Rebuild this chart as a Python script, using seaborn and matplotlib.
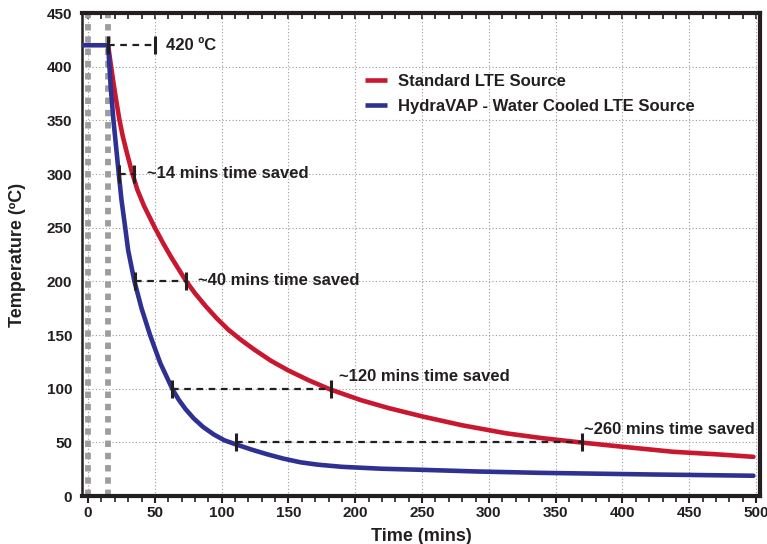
import pandas as pd
import numpy as np
import matplotlib.pyplot as plt
import seaborn as sns
from matplotlib.ticker import MultipleLocator

# values
std_time = [15, 17, 19, 21, 23.4, 26, 29, 33, 37, 42, 46, 50, 56, 62, 68, 73, 80, 88, 96,
            105, 115, 125, 137, 150, 165, 181, 204, 225, 251, 280, 313, 340, 371, 400, 438,
            470, 498]
std_temp = [420, 402, 385, 369, 351, 335, 320, 301, 285, 270, 260, 250, 236, 223, 211, 201,
            189, 177, 166, 155, 145, 136, 126, 117, 108, 99.5, 89.5, 82, 74, 66, 58.5, 54,
            49.7, 46, 41.3, 39, 36.6]

hyd_time = [-4, 15, 16, 17, 19, 21, 23, 25, 27.7, 30, 34.7, 40, 46.4, 54, 63.4, 68, 73, 79,
            86, 94, 102, 110, 122, 134, 146, 159, 172, 190, 220, 250, 290, 338, 420, 498]
hyd_temp = [420, 420, 400, 380, 350, 325, 300, 276, 251, 229, 200, 175, 150, 124, 99, 89.5,
            81, 72.5, 64.5, 57.5, 52, 48.5, 43.5, 39, 35, 31.5, 29.3, 27.3, 25.5, 24.5, 23,
            21.7, 20.2, 19]

series_names = ["Standard LTE Source", "HydraVAP - Water Cooled LTE Source"]
series_colors = ["#c8172f", "#2e3192"]

load_lines = [0, 15]

# (temperature, blue time, red time, label, label x, label y)
savings = [
    (420, 15, 50, "420 ºC", 58, 420),
    (300, 23, 34, "~14 mins time saved", 44, 301),
    (200, 35, 73, "~40 mins time saved", 82, 201),
    (100, 63, 182, "~120 mins time saved", 188, 111),
    (50, 111, 370, "~260 mins time saved", 371, 62),
]

df = pd.concat([
    pd.DataFrame({"Time": std_time, "Temp": std_temp, "Source": series_names[0]}),
    pd.DataFrame({"Time": hyd_time, "Temp": hyd_temp, "Source": series_names[1]}),
], ignore_index=True)

sns.set_style("white")
plt.rcParams['font.family'] = ['Liberation Sans', 'DejaVu Sans']
txt = "#231f20"

fig, ax = plt.subplots(figsize=(7.67, 5.44), dpi=100)
fig.subplots_adjust(left=0.107, right=0.991, bottom=0.088, top=0.976)

ax.grid(True, which="major", linestyle=(0, (1, 2)), color="#9a9a9a", linewidth=0.8)
ax.set_axisbelow(True)

for xv in load_lines:
    ax.axvline(xv, color="#9d9d9f", linewidth=4.2, linestyle=(0, (1.1, 1.0)), zorder=1)

sns.lineplot(data=df, x="Time", y="Temp", hue="Source", palette=series_colors,
             hue_order=series_names, linewidth=3.3, estimator=None, sort=True,
             ax=ax, zorder=3)
for ln in ax.get_lines()[-2:]:
    ln.set_solid_joinstyle("round")
    ln.set_solid_capstyle("butt")

for temp, t1, t2, label, lx, ly in savings:
    ax.plot([t1, t2], [temp, temp], color=txt, linestyle=(0, (3, 2.5)), linewidth=1.6, zorder=4)
    ax.plot([t1, t2], [temp, temp], linestyle="none", marker="|", markersize=13,
            markeredgewidth=2.2, color=txt, zorder=5)
    ax.text(lx, ly, label, fontsize=12, fontweight="bold", color=txt,
            va="center", ha="left", zorder=6)

ax.set_xlim(-4.5, 503)
ax.set_ylim(0, 450)
ax.xaxis.set_major_locator(MultipleLocator(50))
ax.xaxis.set_minor_locator(MultipleLocator(10))
ax.yaxis.set_major_locator(MultipleLocator(50))

ax.set_xlabel("Time (mins)", fontsize=13, fontweight="bold", color=txt, labelpad=6)
ax.set_ylabel("Temperature (ºC)", fontsize=13, fontweight="bold", color=txt, labelpad=15)

for lab in ax.get_xticklabels() + ax.get_yticklabels():
    lab.set_fontweight("bold")
    lab.set_fontsize(11)
    lab.set_color(txt)

ax.tick_params(axis="x", which="both", direction="out", color=txt, bottom=True, top=False)
ax.tick_params(axis="x", which="major", length=5, width=1.5, pad=2)
ax.tick_params(axis="x", which="minor", length=4, width=1.2)
ax.tick_params(axis="y", which="major", direction="out", length=5, width=1.5, color=txt, pad=2)

# inward ticks on the top spine
top = ax.secondary_xaxis("top")
top.xaxis.set_major_locator(MultipleLocator(50))
top.xaxis.set_minor_locator(MultipleLocator(10))
top.tick_params(axis="x", which="both", direction="in", length=4, width=1.2, color=txt,
                labeltop=False)
top.spines["top"].set_visible(False)

for side in ["top", "bottom", "right"]:
    ax.spines[side].set_linewidth(3)
    ax.spines[side].set_color(txt)
ax.spines["left"].set_linewidth(1.8)
ax.spines["left"].set_color(txt)

leg = ax.legend(loc="upper left", bbox_to_anchor=(0.395, 0.905), frameon=False,
                handlelength=1.3, handletextpad=0.7, labelspacing=0.6,
                prop={"weight": "bold", "size": 12})
for t in leg.get_texts():
    t.set_color(txt)
for h in leg.get_lines():
    h.set_linewidth(3.3)

plt.savefig("out.png", dpi=100)
